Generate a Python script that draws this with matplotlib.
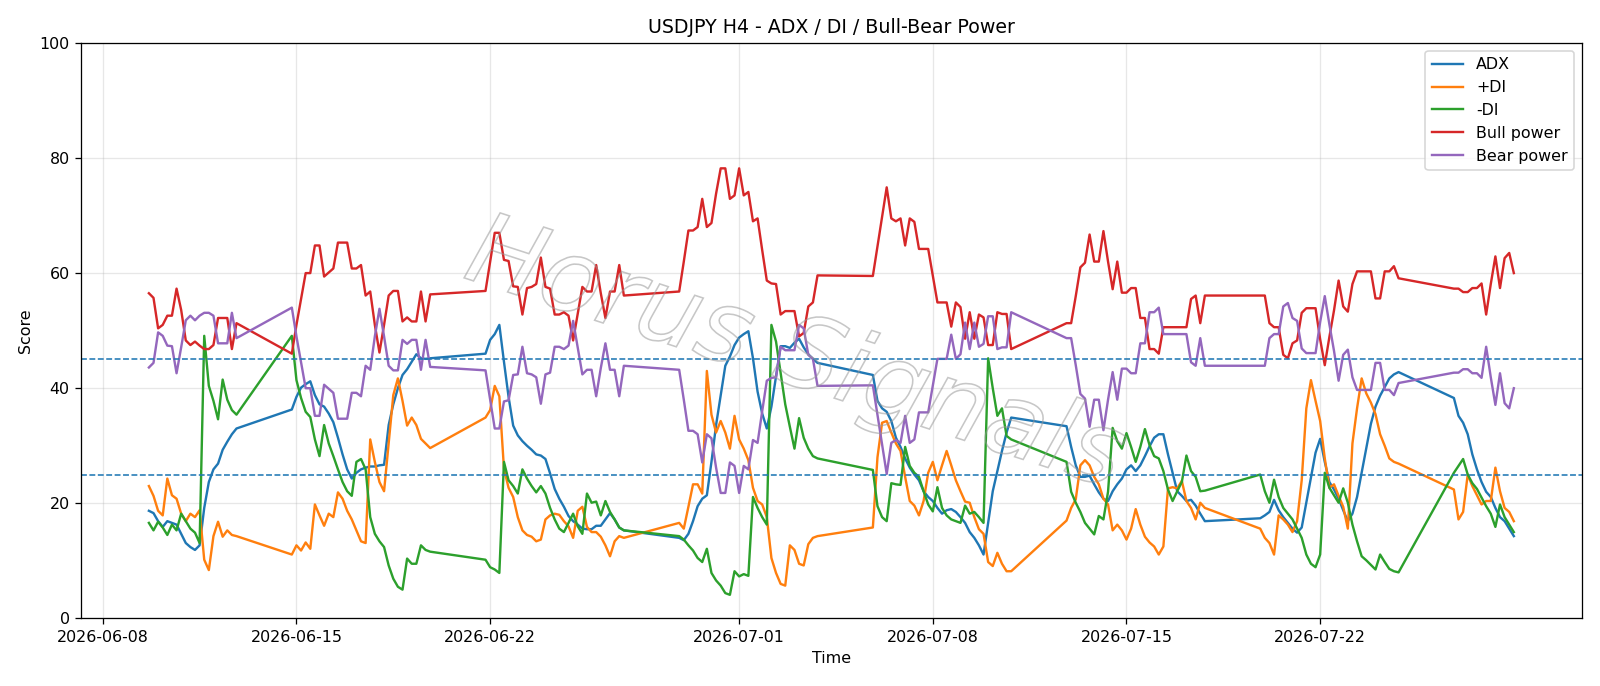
import matplotlib
matplotlib.use("Agg")
import matplotlib.pyplot as plt
import matplotlib.patheffects as pe
import pandas as pd
import numpy as np

# H4 trading segments (weekend gaps between them)
seg_starts = ["2026-06-09 16:00", "2026-06-14 20:00", "2026-06-21 20:00", "2026-06-28 20:00",
              "2026-07-05 20:00", "2026-07-12 20:00", "2026-07-19 20:00", "2026-07-26 20:00"]
seg_counts = [20, 31, 31, 31, 31, 31, 31, 14]

adx = [18.7, 18.3, 16.9, 15.9, 16.9, 16.6, 16.3, 14.7, 13.1, 12.4, 11.9, 12.7, 19.2, 23.7, 25.9, 26.9, 29.3, 30.7, 32.0, 33.0,
       36.3, 38.5, 40.1, 40.7, 41.2, 38.8, 37.2, 36.8, 35.6, 34.1, 31.4, 28.5, 25.9, 24.3, 25.3, 25.9, 26.2, 26.4, 26.4, 26.6, 26.7, 33.6, 37.2, 40.0, 42.3, 43.3, 44.6, 45.9, 45.2, 45.1, 45.2,
       46.0, 48.4, 49.4, 51.0, 44.6, 38.5, 33.5, 31.8, 30.8, 30.0, 29.3, 28.5, 28.3, 27.7, 25.2, 22.5, 20.8, 19.4, 17.8, 16.9, 16.3, 15.6, 15.5, 15.5, 16.1, 16.1, 17.2, 18.3, 17.2, 15.8, 15.3,
       14.0, 13.6, 14.7, 16.9, 19.5, 20.8, 21.4, 27.2, 33.6, 38.8, 43.9, 45.5, 47.5, 48.8, 49.4, 49.9, 45.2, 39.4, 35.6, 33.0, 36.8, 42.0, 47.3, 47.3, 47.0, 47.9, 48.6, 47.1, 45.9, 45.1, 44.4,
       42.3, 37.8, 36.5, 35.9, 34.3, 31.4, 29.8, 27.8, 26.2, 25.0, 24.0, 22.1, 21.1, 20.4, 19.2, 18.2, 18.8, 19.0, 18.5, 17.6, 16.6, 15.0, 14.0, 12.7, 11.1, 16.6, 22.1, 25.6, 29.1, 32.3, 34.9,
       33.4, 29.8, 26.6, 24.6, 24.6, 24.8, 23.3, 21.9, 20.8, 20.4, 22.1, 23.3, 24.3, 25.9, 26.6, 25.6, 26.6, 28.2, 29.9, 31.4, 32.0, 32.0, 28.5, 25.3, 22.1, 21.3, 20.4, 20.6, 19.6, 18.2, 16.9,
       17.4, 17.9, 18.5, 20.6, 18.8, 17.6, 16.6, 15.6, 14.9, 15.8, 20.1, 24.3, 28.8, 31.2, 27.2, 23.7, 22.4, 20.8, 18.8, 16.9, 18.2, 21.1, 25.3, 29.5, 33.8, 36.8, 38.7, 40.2, 41.7, 42.4, 42.8,
       38.3, 35.2, 34.0, 32.0, 28.5, 25.9, 23.7, 22.0, 21.1, 19.2, 17.6, 16.9, 15.6, 14.3]

plus_di = [23.0, 21.3, 18.7, 17.9, 24.3, 21.4, 20.8, 18.2, 16.9, 18.2, 17.6, 18.8, 10.2, 8.4, 14.3, 16.8, 14.2, 15.3, 14.5, 14.3,
           11.1, 12.7, 11.8, 13.2, 12.1, 19.8, 17.9, 16.1, 18.2, 17.6, 21.9, 20.8, 18.7, 17.2, 15.3, 13.4, 13.1, 31.1, 27.2, 23.7, 22.1, 30.5, 38.8, 41.7, 37.8, 33.5, 34.9, 33.6, 31.2, 30.4, 29.6,
           34.9, 36.2, 40.4, 38.6, 26.0, 22.7, 21.1, 17.6, 15.3, 14.5, 14.2, 13.4, 13.7, 17.2, 17.9, 18.2, 18.0, 16.9, 16.0, 14.0, 18.7, 19.4, 15.9, 15.0, 15.0, 14.2, 12.7, 10.8, 13.4, 14.3, 14.0,
           16.6, 15.6, 19.4, 23.3, 23.3, 21.7, 43.0, 35.4, 32.3, 34.3, 32.3, 29.5, 35.2, 31.1, 29.5, 27.5, 22.7, 20.4, 19.8, 17.6, 10.5, 7.9, 6.0, 5.7, 12.7, 11.9, 9.5, 9.2, 12.9, 14.0, 14.3,
           15.8, 28.0, 34.0, 34.3, 32.3, 30.4, 29.1, 24.6, 20.4, 19.6, 17.9, 20.4, 25.3, 27.2, 24.0, 26.6, 29.1, 26.6, 24.0, 22.1, 20.3, 20.1, 17.6, 15.5, 14.7, 9.8, 9.1, 11.4, 9.5, 8.2, 8.2,
           17.0, 19.2, 20.7, 26.6, 27.5, 26.6, 24.6, 23.3, 20.8, 19.8, 15.3, 16.3, 15.3, 13.7, 15.6, 19.0, 16.3, 14.2, 13.2, 12.5, 11.1, 12.5, 22.6, 22.8, 22.6, 23.9, 20.4, 19.2, 17.2, 20.1, 19.2,
           15.6, 14.0, 13.1, 11.1, 17.9, 17.2, 16.3, 15.0, 16.9, 24.0, 36.5, 41.4, 37.8, 34.3, 27.8, 22.7, 23.3, 21.3, 19.4, 15.6, 30.4, 36.5, 41.7, 39.1, 37.5, 35.5, 32.0, 30.0, 27.8, 27.2, 26.9,
           22.4, 17.2, 18.5, 25.0, 23.0, 21.4, 19.8, 20.4, 20.4, 26.2, 22.1, 19.2, 18.5, 16.9]

minus_di = [16.6, 15.3, 16.8, 15.8, 14.5, 16.3, 15.3, 18.2, 16.9, 15.6, 14.9, 13.1, 49.1, 40.4, 37.8, 34.6, 41.5, 38.0, 36.2, 35.4,
            49.1, 41.4, 38.3, 35.9, 35.0, 31.1, 28.2, 33.6, 30.4, 28.2, 25.9, 23.7, 22.1, 21.3, 27.2, 27.7, 25.9, 17.6, 14.7, 13.4, 12.4, 9.2, 6.9, 5.5, 5.0, 10.4, 9.5, 9.5, 12.7, 11.9, 11.6,
            10.2, 8.9, 8.5, 7.9, 27.2, 24.0, 23.0, 21.7, 25.9, 24.3, 23.0, 21.9, 23.0, 21.7, 19.2, 17.2, 15.6, 15.0, 16.6, 18.2, 16.0, 14.7, 21.7, 20.1, 20.3, 17.9, 20.4, 18.5, 17.2, 15.8, 15.3,
            14.3, 13.7, 12.7, 11.8, 10.5, 9.8, 12.1, 7.9, 6.6, 5.7, 4.4, 4.1, 8.2, 7.3, 7.7, 7.4, 21.1, 19.2, 17.6, 16.3, 51.0, 48.1, 42.6, 37.2, 33.3, 29.5, 34.8, 31.4, 29.5, 28.2, 27.8,
            25.8, 19.5, 17.6, 16.9, 23.5, 23.3, 23.2, 29.8, 26.5, 25.3, 24.6, 22.1, 19.8, 18.6, 22.8, 19.2, 17.9, 17.2, 16.9, 16.6, 19.6, 18.2, 18.5, 17.6, 16.6, 45.2, 40.0, 35.2, 36.5, 31.7, 31.1,
            27.2, 22.0, 20.1, 18.5, 16.6, 15.6, 14.6, 17.8, 17.2, 22.0, 33.1, 30.8, 29.5, 32.2, 29.8, 27.2, 29.8, 32.9, 30.1, 28.2, 27.8, 25.6, 22.4, 20.4, 22.1, 23.7, 28.3, 25.6, 24.6, 22.1, 22.2,
            25.0, 22.1, 20.1, 24.1, 21.1, 19.2, 18.2, 17.2, 15.6, 14.0, 11.1, 9.5, 8.9, 11.1, 25.3, 22.7, 21.4, 20.1, 22.6, 20.1, 16.3, 13.4, 10.8, 10.1, 9.3, 8.5, 11.1, 9.8, 8.6, 8.2, 8.0,
            25.3, 26.5, 27.7, 25.0, 23.5, 22.5, 21.0, 19.5, 18.2, 15.9, 19.8, 17.6, 16.3, 15.0]

bull_power = [56.5, 55.7, 50.4, 51.0, 52.6, 52.6, 57.3, 53.6, 48.3, 47.5, 48.1, 47.4, 46.8, 46.8, 47.5, 52.2, 52.2, 52.2, 46.8, 51.3,
              46.0, 51.0, 55.5, 60.0, 60.0, 64.8, 64.8, 59.4, 60.1, 60.8, 65.3, 65.3, 65.3, 60.8, 60.8, 61.4, 56.1, 56.8, 51.0, 46.2, 51.0, 56.1, 56.9, 56.9, 51.6, 52.3, 51.6, 51.6, 56.8, 51.6, 56.3,
              56.9, 62.0, 67.0, 67.0, 62.3, 62.1, 57.7, 57.6, 52.8, 57.4, 57.6, 58.1, 62.7, 57.6, 57.3, 52.8, 52.8, 53.2, 52.6, 48.3, 52.9, 57.6, 56.8, 56.8, 61.4, 56.5, 52.2, 56.8, 56.8, 61.4, 56.1,
              56.8, 62.0, 67.4, 67.4, 68.0, 72.9, 68.0, 68.7, 73.8, 78.2, 78.2, 72.9, 73.5, 78.2, 73.5, 74.1, 69.0, 69.5, 64.0, 58.7, 58.2, 58.1, 52.8, 53.4, 53.4, 53.4, 49.0, 49.6, 54.2, 54.9, 59.6,
              59.5, 64.6, 69.8, 74.9, 69.5, 69.0, 69.5, 64.8, 69.5, 68.9, 64.2, 64.2, 64.2, 59.5, 54.9, 54.9, 54.9, 50.7, 54.9, 54.1, 48.6, 53.2, 48.6, 52.8, 52.3, 47.5, 47.5, 53.2, 52.9, 52.9, 46.8,
              51.3, 51.3, 56.0, 61.0, 61.8, 66.7, 62.0, 62.0, 67.3, 62.0, 57.2, 62.0, 56.6, 56.6, 57.4, 57.4, 52.2, 52.2, 46.8, 46.8, 46.0, 50.6, 50.6, 50.6, 50.6, 50.6, 50.6, 55.5, 56.1, 51.3, 56.1,
              56.1, 56.1, 51.3, 50.6, 50.6, 45.8, 45.2, 47.8, 48.3, 53.1, 53.9, 53.9, 53.9, 48.5, 44.0, 48.9, 53.5, 58.7, 54.2, 53.3, 58.1, 60.3, 60.3, 60.3, 60.3, 55.6, 55.6, 60.3, 60.3, 61.2, 59.1,
              57.3, 57.3, 56.7, 56.7, 57.4, 57.4, 58.2, 52.8, 58.1, 62.9, 57.4, 62.6, 63.5, 60.0]

bear_power = [43.6, 44.4, 49.7, 49.1, 47.4, 47.3, 42.6, 47.1, 51.8, 52.6, 51.8, 52.6, 53.1, 53.1, 52.6, 47.8, 47.8, 47.8, 53.1, 48.7,
              54.0, 49.0, 44.5, 40.0, 40.0, 35.2, 35.2, 40.6, 39.9, 39.2, 34.7, 34.7, 34.7, 39.2, 39.2, 38.6, 43.9, 43.2, 49.0, 53.8, 49.0, 43.9, 43.1, 43.1, 48.4, 47.7, 48.4, 48.4, 43.2, 48.4, 43.7,
              43.1, 38.0, 33.0, 33.0, 37.7, 37.9, 42.3, 42.4, 47.2, 42.6, 42.4, 41.9, 37.3, 42.4, 42.7, 47.2, 47.2, 46.8, 47.4, 51.7, 47.1, 42.4, 43.2, 43.2, 38.6, 43.5, 47.8, 43.2, 43.2, 38.6, 43.9,
              43.2, 38.0, 32.6, 32.6, 32.0, 27.1, 32.0, 31.3, 26.2, 21.8, 21.8, 27.1, 26.5, 21.8, 26.5, 25.9, 31.0, 30.5, 36.0, 41.3, 41.8, 41.9, 47.2, 46.6, 46.6, 46.6, 51.0, 50.4, 45.8, 45.1, 40.4,
              40.5, 35.4, 30.2, 25.1, 30.5, 31.0, 30.5, 35.2, 30.5, 31.1, 35.8, 35.8, 35.8, 40.5, 45.1, 45.1, 45.1, 49.3, 45.1, 45.9, 51.4, 46.8, 51.4, 47.2, 47.7, 52.5, 52.5, 46.8, 47.1, 47.1, 53.2,
              48.7, 48.7, 44.0, 39.0, 38.2, 33.3, 38.0, 38.0, 32.7, 38.0, 42.8, 38.0, 43.4, 43.4, 42.6, 42.6, 47.8, 47.8, 53.2, 53.2, 54.0, 49.4, 49.4, 49.4, 49.4, 49.4, 49.4, 44.5, 43.9, 48.7, 43.9,
              43.9, 43.9, 48.7, 49.4, 49.4, 54.2, 54.8, 52.2, 51.7, 46.9, 46.1, 46.1, 46.1, 51.5, 56.0, 51.1, 46.5, 41.3, 45.8, 46.7, 41.9, 39.7, 39.7, 39.7, 39.7, 44.4, 44.4, 39.7, 39.7, 38.8, 40.9,
              42.7, 42.7, 43.3, 43.3, 42.6, 42.6, 41.8, 47.2, 41.9, 37.1, 42.6, 37.4, 36.5, 40.0]

levels = [25, 45]
title = "USDJPY H4 - ADX / DI / Bull-Bear Power"
watermark = "Horus Signals"

times = pd.DatetimeIndex(np.concatenate([
    pd.date_range(s, periods=n, freq="4h").values for s, n in zip(seg_starts, seg_counts)]))

DPI = 800 / 7
fig = plt.figure(figsize=(14, 686 / DPI), dpi=DPI)
ax = fig.add_axes([0.0504, 0.0985, 0.9384, 0.839])

ax.plot(times, adx, label="ADX")
ax.plot(times, plus_di, label="+DI")
ax.plot(times, minus_di, label="-DI")
ax.plot(times, bull_power, label="Bull power")
ax.plot(times, bear_power, label="Bear power")
for lv in levels:
    ax.axhline(lv, linestyle="--", linewidth=1)

ax.set_ylim(0, 100)
ax.grid(True, alpha=0.3)
ax.set_title(title)
ax.set_xlabel("Time")
ax.set_ylabel("Score")
ax.legend(loc="upper right")

wm = ax.text(0.476, 0.455, watermark, transform=ax.transAxes, fontsize=63,
             color=(1, 1, 1, 0), rotation=-18, ha="center", va="center",
             fontstyle="italic", family="DejaVu Sans", zorder=5)
wm.set_path_effects([pe.PathPatchEffect(edgecolor=(0.6, 0.6, 0.6, 0.55),
                                        facecolor="none", linewidth=1.0)])

fig.savefig("out.png", dpi=DPI)
